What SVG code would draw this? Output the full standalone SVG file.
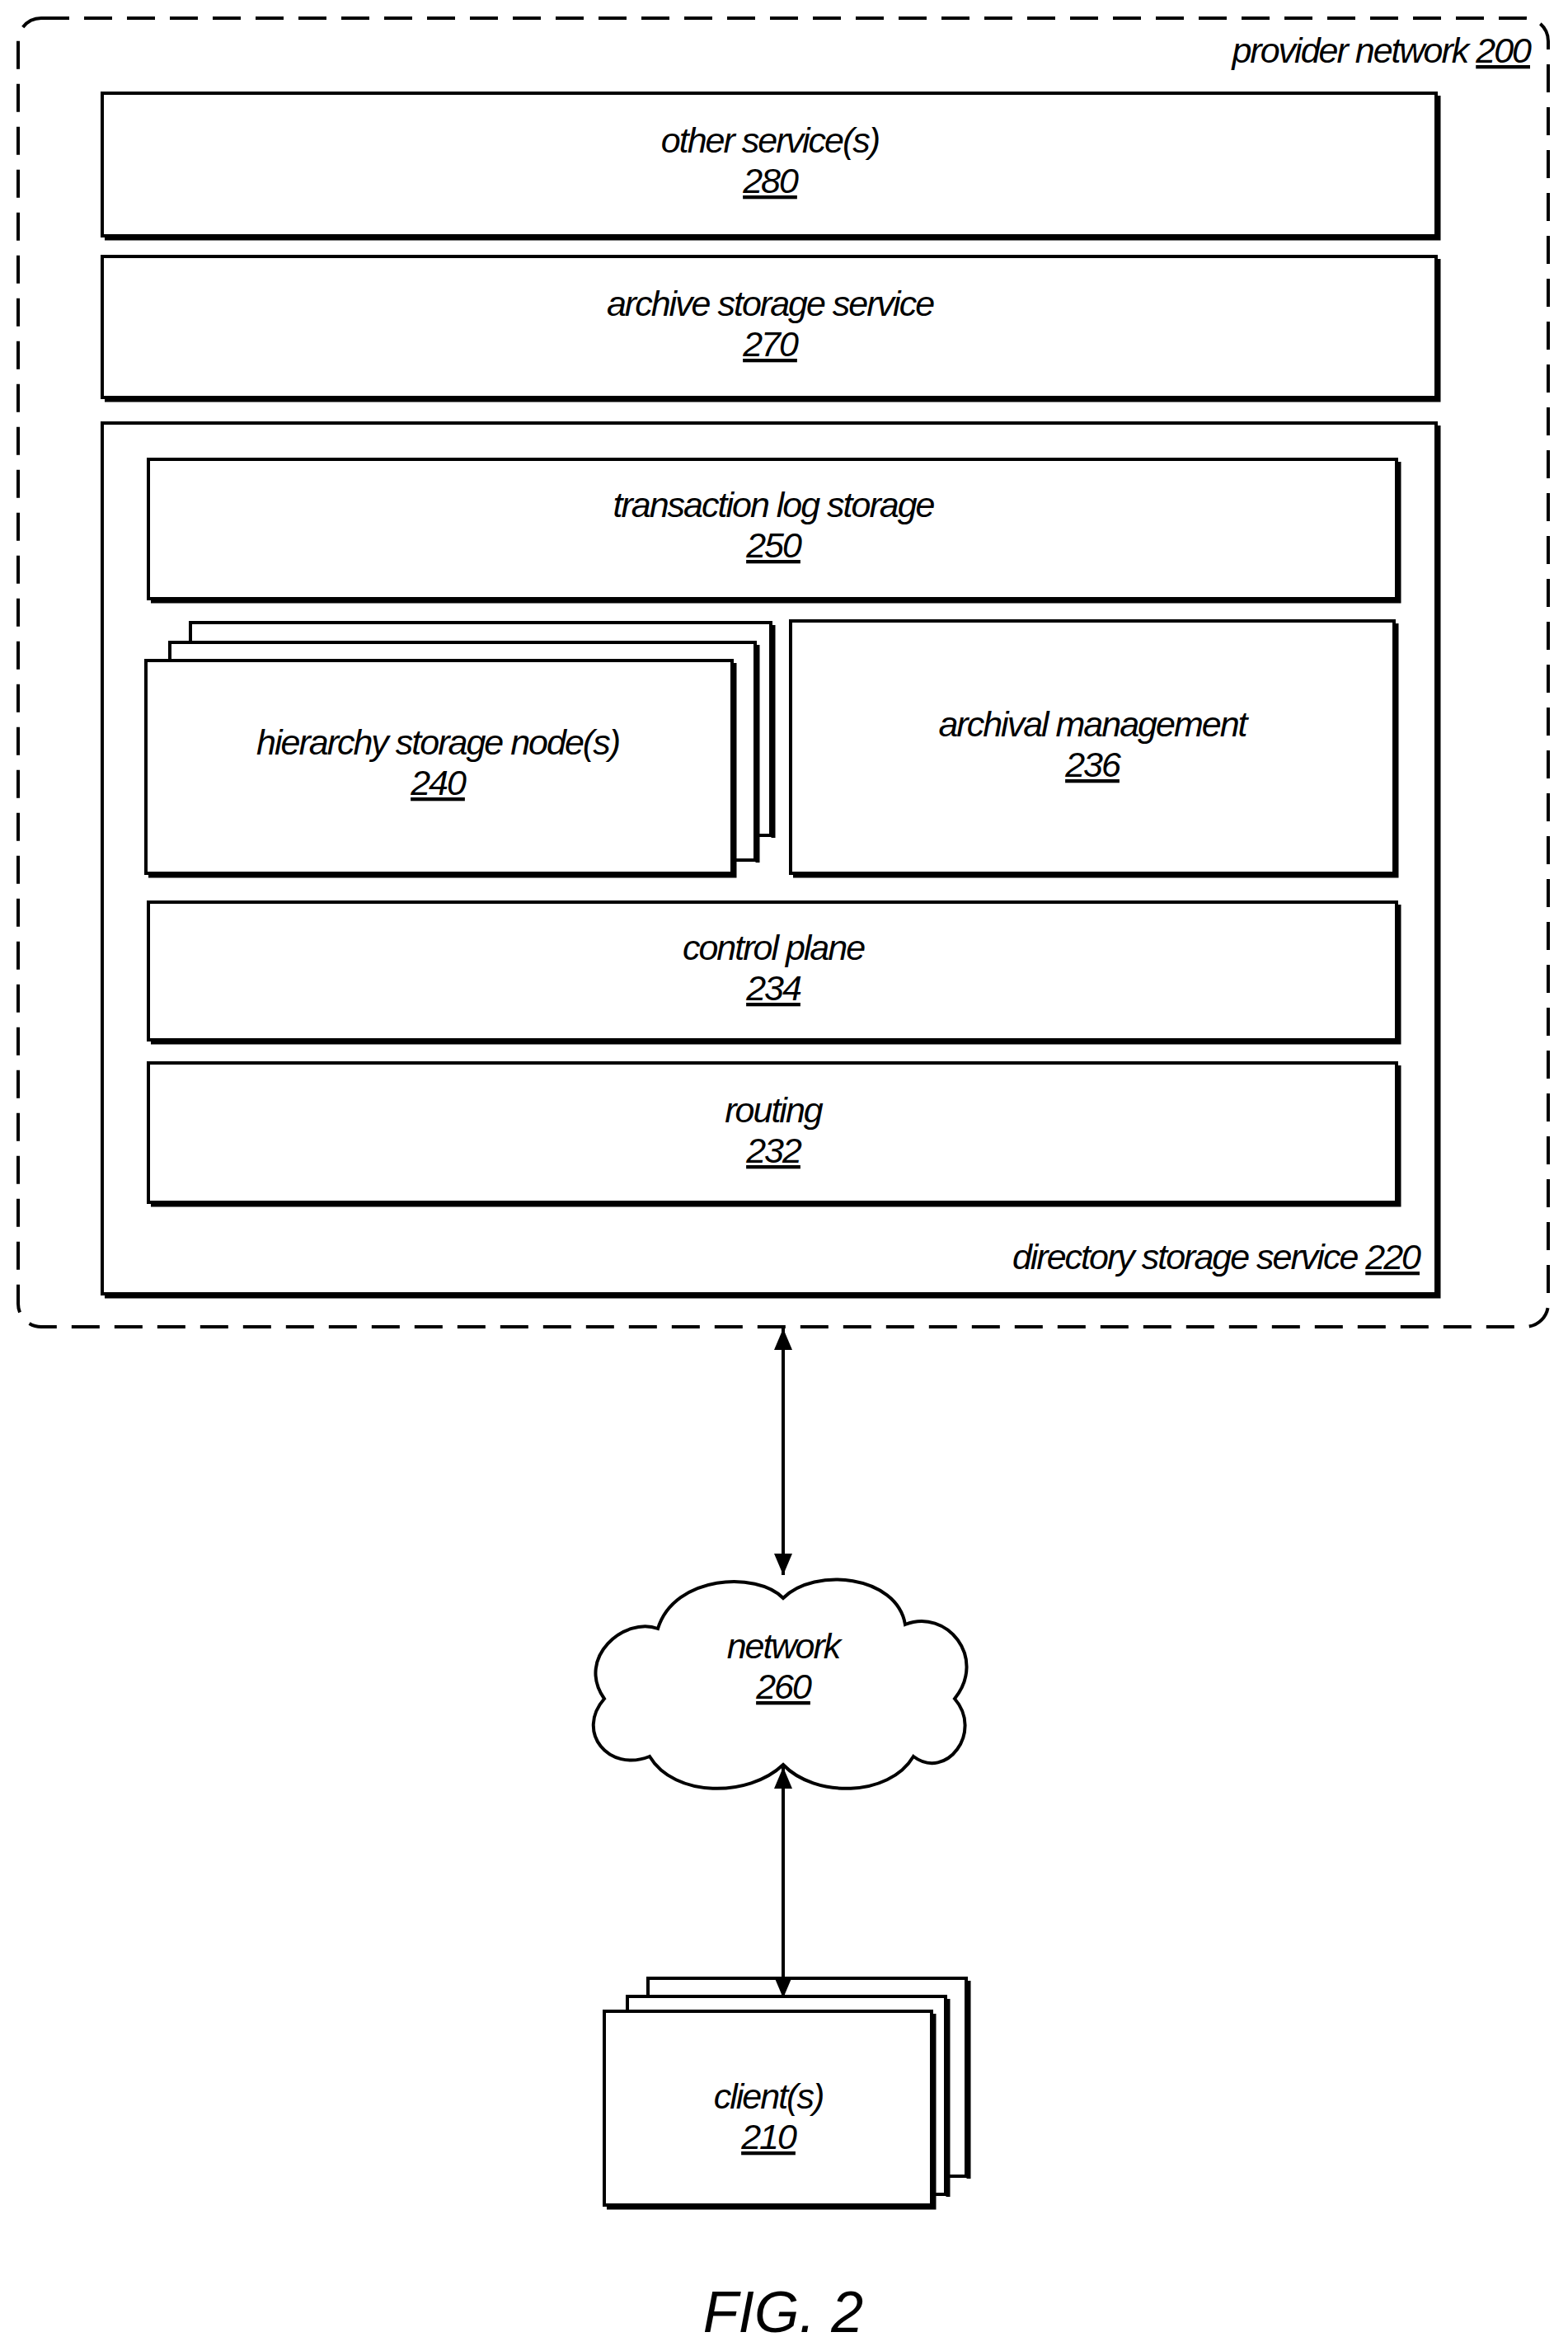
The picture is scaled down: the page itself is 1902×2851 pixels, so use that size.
<svg xmlns="http://www.w3.org/2000/svg" width="1902" height="2851" viewBox="0 0 1902 2851">
<style>
.b{fill:#fff;stroke:#000;stroke-width:4}
.s{fill:none;stroke:#000;stroke-width:5}
.t{font-family:"Liberation Sans",Arial,sans-serif;font-style:italic;font-size:43px;text-anchor:middle;letter-spacing:-2px}
.r{text-anchor:end}
.u{text-decoration:underline}
</style>
<defs>
<marker id="a" viewBox="0 0 26 26" refX="26" refY="13" markerWidth="26" markerHeight="26" markerUnits="userSpaceOnUse" orient="auto-start-reverse"><path d="M0,2 L26,13 L0,24 Z" fill="#000"/></marker>
</defs>
<rect x="22" y="22" width="1856" height="1587" rx="28" fill="none" stroke="#000" stroke-width="4" stroke-dasharray="34,18"/>
<text class="t r" x="1856" y="76">provider network <tspan class="u">200</tspan></text>
<g id="n280"><rect class="b" x="124" y="113" width="1618" height="173"/><path class="s" d="M127,289 H1745 V116"/><text class="t" x="934" y="185">other service(s)</text><text class="t u" x="934" y="234">280</text></g>
<g id="n270"><rect class="b" x="124" y="311" width="1618" height="171"/><path class="s" d="M127,485 H1745 V314"/><text class="t" x="934" y="383">archive storage service</text><text class="t u" x="934" y="432">270</text></g>
<g id="n220"><rect class="b" x="124" y="513" width="1618" height="1056"/><path class="s" d="M127,1572 H1745 V516"/><text class="t r" x="1722" y="1539">directory storage service <tspan class="u">220</tspan></text></g>
<g id="n250"><rect class="b" x="180" y="557" width="1514" height="169"/><path class="s" d="M183,729 H1697 V560"/><text class="t" x="938" y="627">transaction log storage</text><text class="t u" x="938" y="676">250</text></g>
<g id="n240"><rect class="b" x="231" y="755" width="704" height="258"/><path class="s" d="M938,758 V1016"/><rect class="b" x="206" y="779" width="710" height="264"/><path class="s" d="M919,782 V1046"/><rect class="b" x="177" y="801" width="711" height="258"/><path class="s" d="M180,1062 H891 V804"/><text class="t" x="531" y="915">hierarchy storage node(s)</text><text class="t u" x="531" y="964">240</text></g>
<g id="n236"><rect class="b" x="959" y="753" width="732" height="306"/><path class="s" d="M962,1062 H1694 V756"/><text class="t" x="1325" y="893">archival management</text><text class="t u" x="1325" y="942">236</text></g>
<g id="n234"><rect class="b" x="180" y="1094" width="1514" height="167"/><path class="s" d="M183,1264 H1697 V1097"/><text class="t" x="938" y="1164">control plane</text><text class="t u" x="938" y="1213">234</text></g>
<g id="n232"><rect class="b" x="180" y="1289" width="1514" height="169"/><path class="s" d="M183,1461 H1697 V1292"/><text class="t" x="938" y="1361">routing</text><text class="t u" x="938" y="1410">232</text></g>
<g id="n260"><path d="M950,1938 C988,1900 1088,1910 1098,1970 C1148,1950 1198,2010 1158,2060 C1193,2100 1148,2160 1108,2130 C1078,2180 988,2180 950,2140 C908,2180 818,2180 788,2130 C738,2150 698,2100 733,2060 C698,2010 758,1960 798,1975 C818,1910 918,1905 950,1938 Z" fill="#fff" stroke="#000" stroke-width="4"/><text class="t" x="950" y="2011">network</text><text class="t u" x="950" y="2060">260</text></g>
<g id="n210"><rect class="b" x="786" y="2399" width="386" height="240"/><path class="s" d="M1175,2402 V2642"/><rect class="b" x="761" y="2421" width="386" height="240"/><path class="s" d="M1150,2424 V2664"/><rect class="b" x="733" y="2439" width="397" height="235"/><path class="s" d="M736,2677 H1133 V2442"/><text class="t" x="932" y="2557">client(s)</text><text class="t u" x="932" y="2606">210</text></g>
<g id="connectors" stroke="#000" stroke-width="4" fill="none">
<line x1="950" y1="1611" x2="950" y2="1910" marker-start="url(#a)" marker-end="url(#a)"/>
<line x1="950" y1="2143" x2="950" y2="2423" marker-start="url(#a)" marker-end="url(#a)"/>
</g>
<text x="950" y="2828" style="font-family:'Liberation Sans',Arial,sans-serif;font-style:italic;font-size:70px;text-anchor:middle">FIG. 2</text>
</svg>
